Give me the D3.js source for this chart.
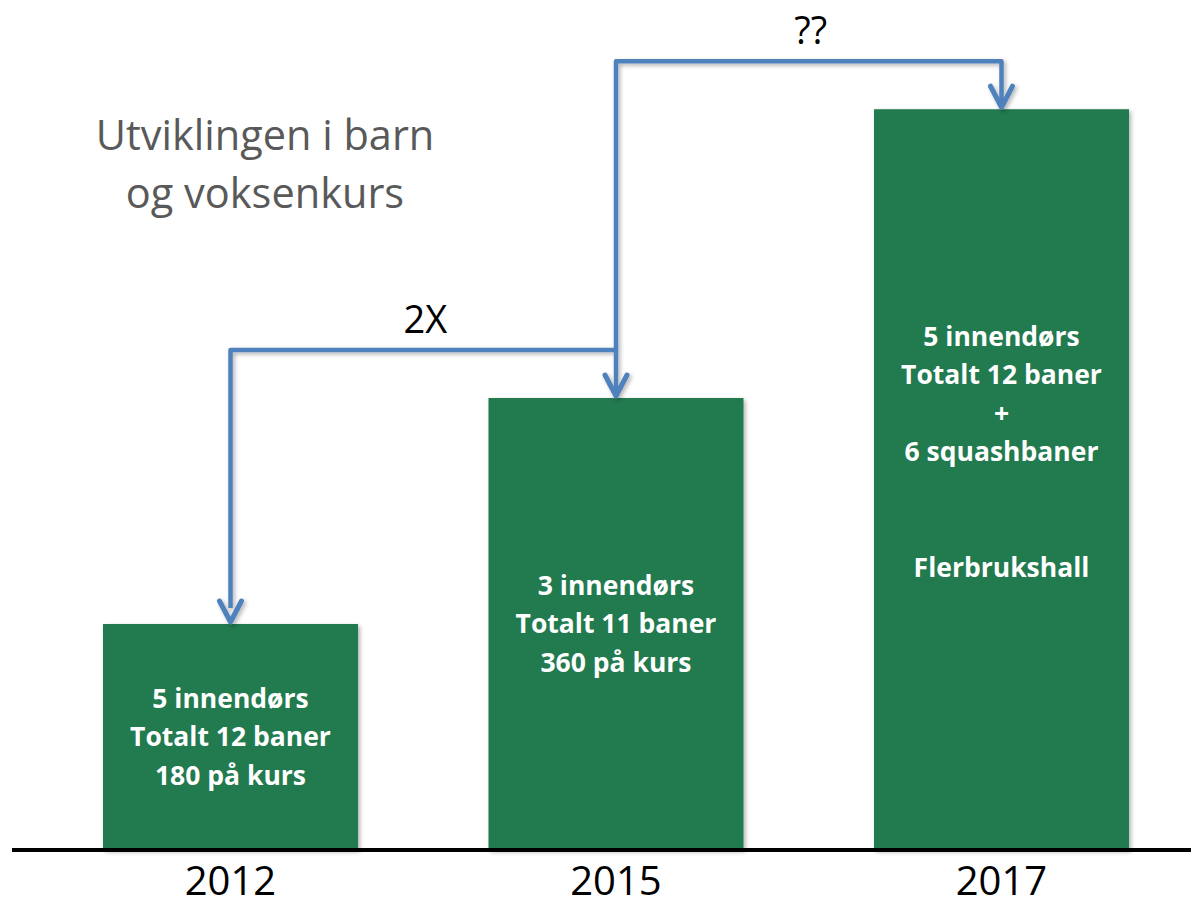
<!DOCTYPE html>
<html>
<head>
<meta charset="utf-8">
<script src="https://cdn.jsdelivr.net/npm/d3@7"></script>
<style>
  html, body { margin: 0; padding: 0; background: #ffffff; }
  svg { display: block; }
</style>
</head>
<body>
<svg id="chart" width="1191" height="906"></svg>
<script>
// ---- data ----
const years = ["2012", "2015", "2017"];
const values = [180, 360, 590];
const barLabels = [
  ["5 innendørs", "Totalt 12 baner", "180 på kurs"],
  ["3 innendørs", "Totalt 11 baner", "360 på kurs"],
  ["5 innendørs", "Totalt 12 baner", "+", "6 squashbaner", "", "", "Flerbrukshall", ""]
];
const titleLines = ["Utviklingen i barn", "og voksenkurs"];
const annotations = [
  { from: 0, to: 1, text: "2X" },
  { from: 1, to: 2, text: "??" }
];

// ---- setup ----
const W = 1191, H = 906;
const svg = d3.select("#chart");
const baseY = 850;

const x = d3.scaleBand().domain(years).range([103, 1129]).paddingInner(0.3385).paddingOuter(0);
const y = d3.scaleLinear().domain([0, 677]).range([baseY, 0]);

const defs = svg.append("defs");
const sh = defs.append("filter").attr("id", "shadow").attr("x", "-20%").attr("y", "-20%").attr("width", "140%").attr("height", "140%");
sh.append("feDropShadow").attr("dx", 2).attr("dy", 2).attr("stdDeviation", 2).attr("flood-color", "#000").attr("flood-opacity", 0.3);

const green = "#217A4F";
const blue = "#4F81BD";

// title
svg.append("text")
  .attr("x", 265).attr("y", 150)
  .attr("text-anchor", "middle")
  .attr("font-family", "'Open Sans', sans-serif")
  .attr("font-size", 41.5)
  .attr("fill", "#595959")
  .selectAll("tspan").data(titleLines).join("tspan")
  .attr("x", 265).attr("dy", (d, i) => i === 0 ? 0 : 58)
  .text(d => d);

// bars
const data = years.map((yr, i) => ({ yr, v: values[i], lines: barLabels[i] }));
svg.append("g").selectAll("rect").data(data).join("rect")
  .attr("x", d => x(d.yr))
  .attr("y", d => y(d.v))
  .attr("width", x.bandwidth())
  .attr("height", d => baseY - y(d.v))
  .attr("fill", green)
  .attr("filter", "url(#shadow)");

// bar labels
const lh = 38.5;
const lbl = svg.append("g").selectAll("text").data(data).join("text")
  .attr("text-anchor", "middle")
  .attr("font-family", "'Open Sans', sans-serif")
  .attr("font-weight", "bold")
  .attr("font-size", 26.5)
  .attr("fill", "#ffffff");
lbl.each(function(d) {
  const cx = x(d.yr) + x.bandwidth() / 2;
  const cy = (y(d.v) + baseY) / 2;
  const n = d.lines.length;
  const first = cy - (n - 1) * lh / 2 + 9 - (n > 4 ? 8 : 0);
  d3.select(this).selectAll("tspan").data(d.lines).join("tspan")
    .attr("x", cx)
    .attr("y", (t, i) => first + i * lh)
    .text(t => t);
});

// baseline
svg.append("line")
  .attr("x1", 12).attr("x2", W)
  .attr("y1", baseY).attr("y2", baseY)
  .attr("stroke", "#000").attr("stroke-width", 4);

// year labels
svg.append("g").selectAll("text").data(years).join("text")
  .attr("x", d => x(d) + x.bandwidth() / 2)
  .attr("y", 895)
  .attr("text-anchor", "middle")
  .attr("font-family", "'Open Sans', sans-serif")
  .attr("font-size", 40)
  .attr("fill", "#000")
  .text(d => d);

// connectors
const cxOf = i => x(years[i]) + x.bandwidth() / 2;
const levelOf = i => y(values[i]) - 48;
const g = svg.append("g").attr("filter", "url(#shadow)");
annotations.forEach((a, k) => {
  const x0 = cxOf(a.from), x1 = cxOf(a.to);
  const lvl = levelOf(a.to);
  const startY = k === 0 ? y(values[a.from]) - 2 : levelOf(a.from);
  const tipY = y(values[a.to]) - 2;
  const p = d3.path();
  p.moveTo(x0, k === 0 ? startY - 14 : startY);
  p.lineTo(x0, lvl);
  p.lineTo(x1, lvl);
  p.lineTo(x1, tipY - 2);
  g.append("path").attr("d", p.toString())
    .attr("fill", "none").attr("stroke", blue).attr("stroke-width", 4.5)
    .attr("stroke-linejoin", "round");
  // arrowheads
  const heads = k === 0 ? [[x0, startY], [x1, tipY]] : [[x1, tipY]];
  heads.forEach(([hx, hy]) => {
    g.append("path")
      .attr("d", `M${hx - 11},${hy - 21} L${hx},${hy} L${hx + 11},${hy - 21}`)
      .attr("fill", "none").attr("stroke", blue).attr("stroke-width", 5)
      .attr("stroke-linecap", "round").attr("stroke-linejoin", "round");
  });
  svg.append("text")
    .attr("x", (x0 + x1) / 2 + 2)
    .attr("y", lvl - 17)
    .attr("text-anchor", "middle")
    .attr("font-family", "'Open Sans', sans-serif")
    .attr("font-size", 38)
    .attr("fill", "#000")
    .text(a.text);
});
</script>
</body>
</html>
